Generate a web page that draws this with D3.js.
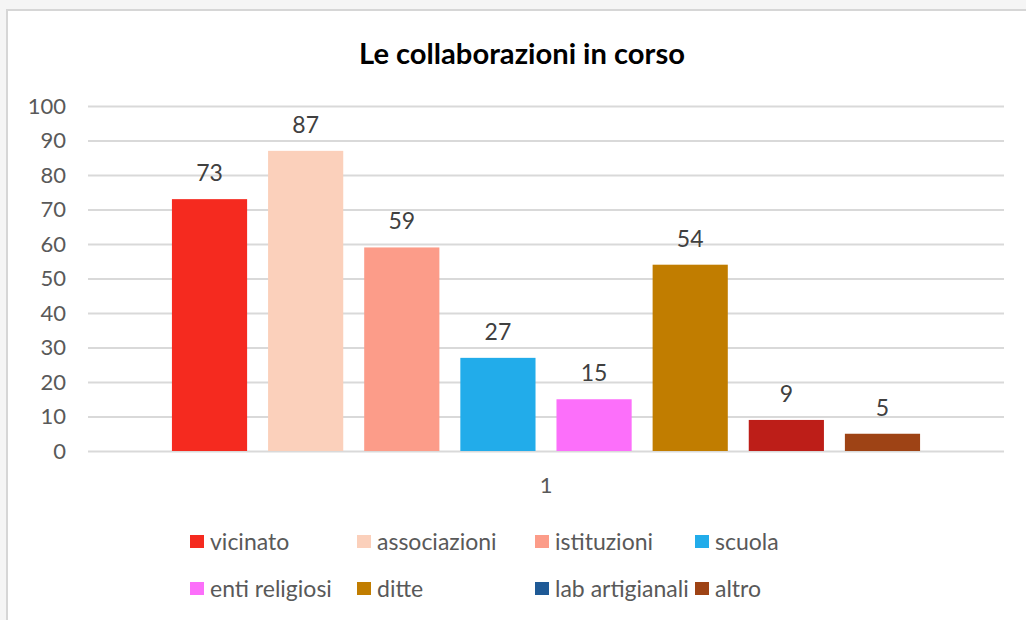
<!DOCTYPE html>
<html>
<head>
<meta charset="utf-8">
<script src="https://cdn.jsdelivr.net/npm/d3@7"></script>
<style>
  html, body { margin: 0; padding: 0; background: #f5f5f5; }
  svg { display: block; }
  text { font-family: Lato, "Open Sans", sans-serif; }
</style>
</head>
<body>
<svg id="chart" width="1026" height="620"></svg>
<script>
// ---- data ----
const title = "Le collaborazioni in corso";
const categoryLabels = ["1"];
const seriesNames = ["vicinato", "associazioni", "istituzioni", "scuola", "enti religiosi", "ditte", "lab artigianali", "altro"];
const legendColors = ["#f52a1f", "#fbd0bb", "#fc9c89", "#22acea", "#fc6ffa", "#c17d00", "#1f5a96", "#9e4315"];
const barValues = [73, 87, 59, 27, 15, 54, 9, 5];
const barColors = ["#f52a1f", "#fbd0bb", "#fc9c89", "#22acea", "#fc6ffa", "#c17d00", "#bd1e18", "#9e4315"];
const yTicks = [0, 10, 20, 30, 40, 50, 60, 70, 80, 90, 100];

// ---- layout ----
const svg = d3.select("#chart");
const W = 1026, H = 620;
const plot = { left: 88, right: 1004, top: 106, bottom: 451 };

svg.append("rect").attr("x", 7).attr("y", 10).attr("width", W + 10).attr("height", H + 10)
  .attr("fill", "#ffffff").attr("stroke", "#d6d6d6").attr("stroke-width", 2);

svg.append("text").attr("x", 522).attr("y", 64).attr("text-anchor", "middle")
  .attr("font-size", 28).attr("font-weight", "bold").attr("fill", "#000")
  .attr("textLength", 326).attr("lengthAdjust", "spacingAndGlyphs").text(title);

const y = d3.scaleLinear().domain([0, 100]).range([plot.bottom, plot.top]);
const x = d3.scaleBand().domain(d3.range(barValues.length))
  .range([plot.left, plot.right]).paddingInner(0.218).paddingOuter(0.873);

// grid
const yAxis = d3.axisLeft(y).tickValues(yTicks).tickSize(-(plot.right - plot.left)).tickPadding(22);
const gy = svg.append("g").attr("transform", `translate(${plot.left},0)`).call(yAxis);
gy.select(".domain").remove();
gy.selectAll(".tick line").attr("stroke", "#d9d9d9").attr("stroke-width", 2);
gy.selectAll(".tick text").attr("fill", "#595959").attr("font-size", 22)
  .style("font-family", "Lato, sans-serif");

// bars
svg.append("g").selectAll("rect").data(barValues).join("rect")
  .attr("x", (d, i) => x(i)).attr("width", x.bandwidth())
  .attr("y", d => y(d)).attr("height", d => y(0) - y(d))
  .attr("fill", (d, i) => barColors[i]);

// data labels
svg.append("g").selectAll("text").data(barValues).join("text")
  .attr("x", (d, i) => x(i) + x.bandwidth() / 2)
  .attr("y", d => y(d) - 18)
  .attr("text-anchor", "middle").attr("font-size", 23).attr("fill", "#404040")
  .text(d => d);

// category label
const xCat = d3.scaleBand().domain(categoryLabels).range([plot.left, plot.right]);
const gx = svg.append("g").attr("transform", `translate(0,${plot.bottom})`)
  .call(d3.axisBottom(xCat).tickSize(0).tickPadding(26));
gx.select(".domain").remove();
gx.selectAll(".tick text").attr("fill", "#595959").attr("font-size", 22)
  .style("font-family", "Lato, sans-serif");

// legend
const colX = [190, 357, 535, 695];
const rowY = [542, 589];
const leg = svg.append("g").selectAll("g").data(seriesNames).join("g")
  .attr("transform", (d, i) => `translate(${colX[i % 4]},${rowY[Math.floor(i / 4)]})`);
leg.append("rect").attr("x", 0).attr("y", -7).attr("width", 14).attr("height", 13)
  .attr("fill", (d, i) => legendColors[i]);
leg.append("text").attr("x", 20).attr("y", 0).attr("dy", "0.35em")
  .attr("font-size", 23).attr("fill", "#595959").text(d => d);
</script>
</body>
</html>
